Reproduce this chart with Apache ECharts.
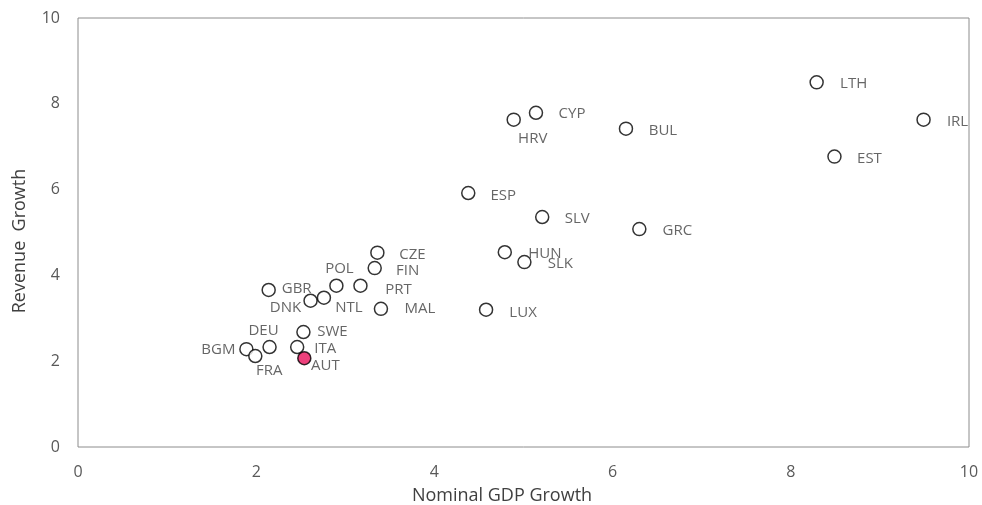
<!DOCTYPE html>
<html>
<head>
<meta charset="utf-8">
<script src="https://cdn.jsdelivr.net/npm/echarts@6/dist/echarts.min.js"></script>
<style>html,body{margin:0;padding:0;background:#fff}#c{width:982px;height:505px}</style>
</head>
<body>
<div id="c"></div>
<script>
const countries = ['LTH','IRL','EST','CYP','HRV','BUL','ESP','SLV','GRC','HUN','SLK','LUX','CZE','FIN','POL','PRT','GBR','NTL','DNK','MAL','SWE','DEU','ITA','BGM','FRA','AUT'];
const gdpGrowth = [8.29,9.49,8.49,5.14,4.89,6.15,4.38,5.21,6.30,4.79,5.01,4.58,3.36,3.33,2.90,3.17,2.14,2.76,2.61,3.40,2.53,2.15,2.46,1.89,1.99,2.54];
const revenueGrowth = [8.50,7.63,6.77,7.79,7.63,7.42,5.92,5.36,5.08,4.54,4.31,3.20,4.53,4.17,3.76,3.76,3.66,3.48,3.41,3.22,2.68,2.33,2.33,2.28,2.12,2.07];
const highlighted = ['AUT'];
const xTicks = [0,2,4,6,8,10];
const yTicks = [0,2,4,6,8,10];

// label centre offsets from the marker (style only)
const defaultOffset = [36, 2];
const labelOffsets = {
  LTH: [37, 1], IRL: [34, 2], EST: [35, 2], CYP: [36, 1], HRV: [19, 19], BUL: [37, 2],
  ESP: [35, 3], SLV: [35, 2], GRC: [38, 2], HUN: [40, 2], SLK: [36, 2], LUX: [37, 3],
  CZE: [35, 2], FIN: [33, 3], POL: [3, -17], PRT: [38, 4], GBR: [28, -1], NTL: [25, 10],
  DNK: [-25, 7], MAL: [39, 0], SWE: [29, 0], DEU: [-6, -16], ITA: [28, 2], BGM: [-28, 1],
  FRA: [14, 15], AUT: [21, 8]
};

const data = countries.map((n, i) => {
  const item = {name: n, value: [gdpGrowth[i], revenueGrowth[i]]};
  if (highlighted.includes(n)) item.itemStyle = {color: '#E8115B'};
  return item;
});

const chart = echarts.init(document.getElementById('c'));
chart.setOption({
  animation: false,
  grid: {left: 78, right: 13, top: 18, bottom: 58, show: true, borderColor: '#8c8c8c', borderWidth: 1},
  xAxis: {
    type: 'value', min: xTicks[0], max: xTicks[xTicks.length-1], interval: 2,
    axisLine: {show: false}, axisTick: {show: false}, splitLine: {show: false},
    axisLabel: {color: '#595959', fontSize: 16, fontFamily: 'Open Sans', margin: 17}
  },
  yAxis: {
    type: 'value', min: yTicks[0], max: yTicks[yTicks.length-1], interval: 2,
    axisLine: {show: false}, axisTick: {show: false}, splitLine: {show: false},
    axisLabel: {color: '#595959', fontSize: 16, fontFamily: 'Open Sans', margin: 18}
  },
  graphic: [
    {type: 'text', x: 502, y: 496, style: {text: 'Nominal GDP Growth', font: '18px "Open Sans"', fill: '#404040', align: 'center', verticalAlign: 'middle'}},
    {type: 'text', x: 20, y: 241, rotation: Math.PI/2, style: {text: 'Revenue  Growth', font: '18px "Open Sans"', fill: '#404040', align: 'center', verticalAlign: 'middle'}}
  ],
  series: [{
    type: 'scatter',
    symbol: 'circle',
    symbolSize: 13,
    itemStyle: {color: '#ffffff', borderColor: '#000000', borderWidth: 1.5},
    label: {show: true, position: 'inside', formatter: '{b}', color: '#404040', fontSize: 15, fontFamily: 'Open Sans'},
    labelLayout: function (p) {
      const o = labelOffsets[countries[p.dataIndex]] || defaultOffset;
      return {dx: o[0], dy: o[1], hideOverlap: false};
    },
    data: data
  }]
});
</script>
</body>
</html>
